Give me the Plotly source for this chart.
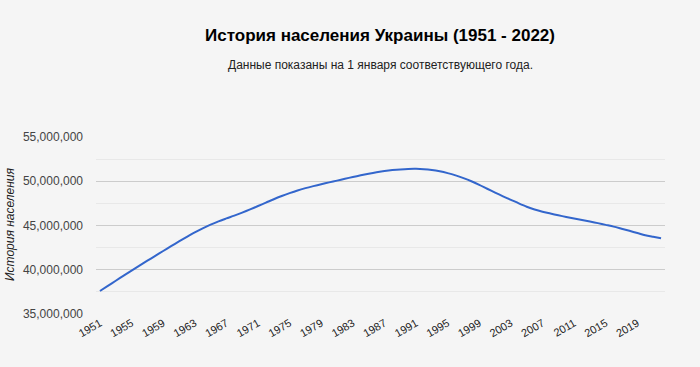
import plotly.graph_objects as go

years = list(range(1951, 2023))
population_millions = [
    37.60, 38.18, 38.76, 39.33, 39.90, 40.46, 41.02, 41.57, 42.12, 42.66,
    43.20, 43.72, 44.22, 44.68, 45.10, 45.47, 45.80, 46.12, 46.46, 46.82,
    47.20, 47.58, 47.97, 48.33, 48.66, 48.96, 49.22, 49.45, 49.66, 49.87,
    50.07, 50.28, 50.48, 50.67, 50.85, 51.01, 51.15, 51.26, 51.34, 51.39,
    51.40, 51.37, 51.28, 51.13, 50.92, 50.66, 50.35, 50.00, 49.60, 49.15,
    48.72, 48.30, 47.90, 47.50, 47.12, 46.80, 46.55, 46.35, 46.15, 45.97,
    45.80, 45.62, 45.45, 45.27, 45.07, 44.87, 44.64, 44.40, 44.15, 43.90,
    43.72, 43.55,
]
population = [v * 1_000_000 for v in population_millions]
x_tick_years = list(range(1951, 2020, 4))
y_tick_values = [35_000_000, 40_000_000, 45_000_000, 50_000_000, 55_000_000]

title_text = "История населения Украины (1951 - 2022)"
subtitle_text = "Данные показаны на 1 января соответствующего года."
y_title = "История населения"

FONT = "Liberation Sans, Arial, sans-serif"

fig = go.Figure()
fig.add_trace(go.Scatter(
    x=years, y=population, mode="lines",
    line=dict(color="#3366cc", width=2, shape="spline", smoothing=0.8),
    hoverinfo="x+y",
))

W, H = 700, 367
L, R, T, B = 96, 35, 137, 53

fig.update_layout(
    width=W, height=H,
    margin=dict(l=L, r=R, t=T, b=B, pad=0),
    paper_bgcolor="#f5f5f5", plot_bgcolor="#f5f5f5",
    showlegend=False,
    font=dict(family=FONT, color="#444444", size=12),
    xaxis=dict(
        range=[1950.5, 2022.5],
        tickvals=x_tick_years,
        ticktext=[str(y) for y in x_tick_years],
        tickangle=-30,
        showgrid=False, zeroline=False, showline=False,
        ticks="", tickfont=dict(size=11, color="#222222"),
        fixedrange=True,
    ),
    yaxis=dict(
        range=[35_000_000, 55_000_000],
        tickvals=y_tick_values,
        tickformat=",d",
        showgrid=True, gridcolor="#cccccc", gridwidth=1,
        zeroline=False, showline=False, ticks="",
        tickfont=dict(size=12, color="#444444"),
        ticklabelstandoff=12,
        minor=dict(tickvals=[37_500_000, 42_500_000, 47_500_000, 52_500_000],
                   showgrid=True, gridcolor="#e8e8e8", gridwidth=1),
        fixedrange=True,
    ),
    annotations=[
        dict(text="<b>" + title_text + "</b>", xref="paper", yref="paper",
             x=(380 - L) / (W - L - R), y=1 + (T - 35) / (H - T - B),
             xanchor="center", yanchor="middle", showarrow=False,
             font=dict(size=17, color="#000000", family=FONT)),
        dict(text=subtitle_text, xref="paper", yref="paper",
             x=(380 - L) / (W - L - R), y=1 + (T - 65) / (H - T - B),
             xanchor="center", yanchor="middle", showarrow=False,
             font=dict(size=12, color="#222222", family=FONT)),
        dict(text="<i>" + y_title + "</i>", xref="paper", yref="paper",
             x=(10 - L) / (W - L - R), y=(H - B - 225) / (H - T - B),
             xanchor="center", yanchor="middle", textangle=-90, showarrow=False,
             font=dict(size=12, color="#222222", family=FONT)),
    ],
)

fig.write_html(
    "out.html",
    config={"displayModeBar": False},
    post_script="document.body.style.margin='0';document.body.style.background='#f5f5f5';document.body.style.overflow='hidden';",
)
